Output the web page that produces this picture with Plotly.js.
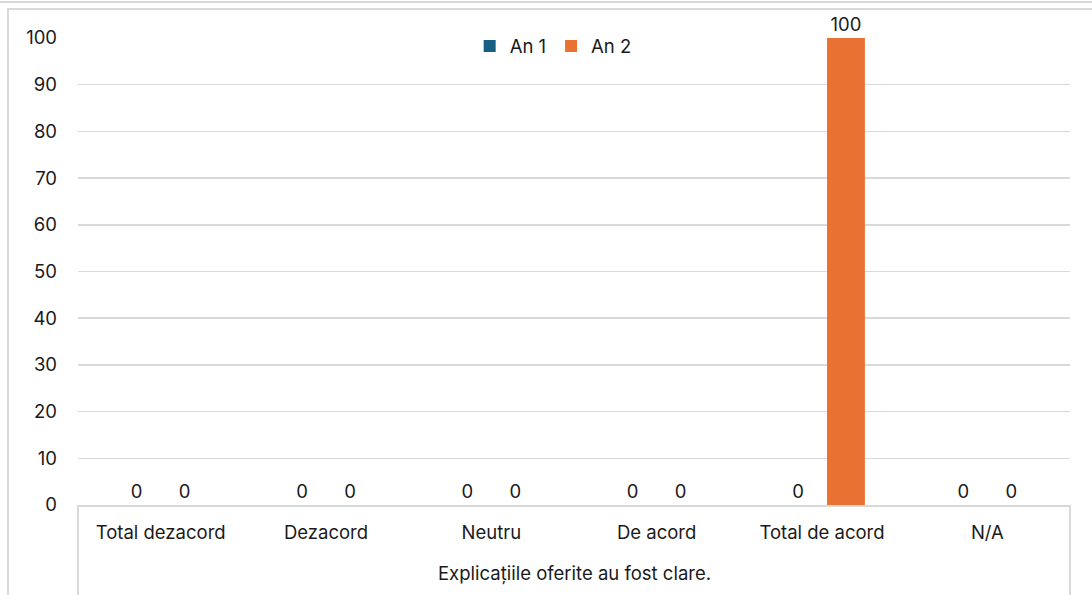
<!DOCTYPE html>
<html>
<head>
<meta charset="utf-8">
<script src="https://cdn.plot.ly/plotly-3.0.1.min.js"></script>
<style>
  html,body{margin:0;padding:0;background:#fff;}
  #wrap{position:relative;width:1092px;height:595px;overflow:hidden;}
  #chart{position:absolute;left:0;top:0;width:1092px;height:595px;}
  .ln{position:absolute;background:#d9d9d9;pointer-events:none;}
</style>
</head>
<body>
<div id="wrap">
  <div id="chart"></div>
  <div class="ln" style="left:0;top:1px;width:1092px;height:2px;"></div>
  <div class="ln" style="left:7px;top:8px;width:1085px;height:2px;"></div>
  <div class="ln" style="left:7px;top:8px;width:2px;height:587px;"></div>
</div>
<script>
const groupLabel = "Explicațiile oferite au fost clare.";
const categories = ["Total dezacord", "Dezacord", "Neutru", "De acord", "Total de acord", "N/A"];
const an1 = [0, 0, 0, 0, 0, 0];
const an2 = [0, 0, 0, 0, 100, 0];
const seriesNames = ["An 1", "An 2"];
const colors = ["#156082", "#E97132"];

const font = {family: "Inter, 'Open Sans', sans-serif", size: 18.5, color: "#1a1a1a"};

const traces = [an1, an2].map((vals, i) => ({
  type: "bar",
  name: seriesNames[i],
  x: categories,
  y: vals,
  marker: {color: colors[i]},
  texttemplate: "%{y}",
  textposition: "outside",
  textfont: font,
  cliponaxis: false,
  hoverinfo: "none"
}));

const plotH = 595 - 38 - 90;
const layout = {
  width: 1092, height: 595,
  margin: {l: 78, r: 22, t: 38, b: 90},
  paper_bgcolor: "#fff", plot_bgcolor: "#fff",
  font: font,
  barmode: "group",
  bargap: 0.42,
  bargroupgap: 0.21,
  showlegend: true,
  legend: {orientation: "h", x: 0.479, xanchor: "center", y: 0.982, yanchor: "middle",
           font: font, bgcolor: "rgba(0,0,0,0)", itemwidth: 30, traceorder: "normal"},
  xaxis: {
    type: "category",
    showline: true, linecolor: "#d9d9d9", linewidth: 2,
    ticks: "", ticklabelstandoff: 10, tickfont: font, showgrid: false, zeroline: false
  },
  yaxis: {
    range: [0, 100], dtick: 10, tick0: 0,
    showgrid: true, gridcolor: "#d9d9d9", gridwidth: 1.5,
    zeroline: false, showline: false,
    ticks: "", ticklabelstandoff: 20, tickfont: font
  },
  annotations: [{
    text: groupLabel, xref: "paper", yref: "paper", x: 0.5, y: 0,
    xanchor: "center", yanchor: "middle", yshift: -68, showarrow: false, font: font
  }],
  shapes: [0, 1].map(px => ({
    type: "line", xref: "paper", yref: "paper", x0: px, x1: px, y0: 0, y1: -90 / plotH,
    line: {color: "#d9d9d9", width: 2}
  }))
};

Plotly.newPlot("chart", traces, layout, {displayModeBar: false, staticPlot: true});
</script>
</body>
</html>
